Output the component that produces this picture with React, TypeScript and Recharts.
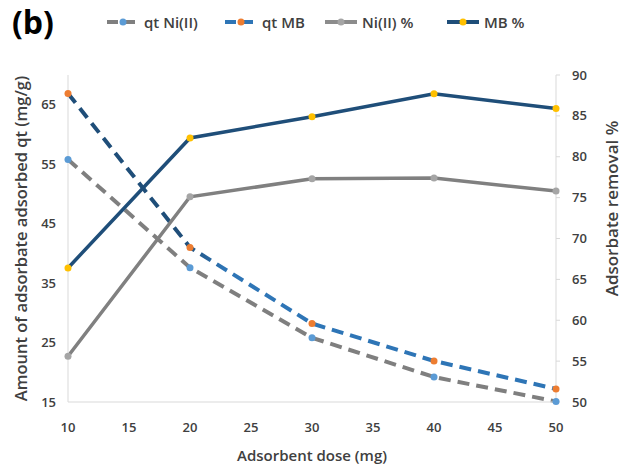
import { LineChart, Line, XAxis, YAxis, Legend, Label } from 'recharts'

const DOSES = [10, 20, 30, 40, 50]
const QT_NI = [55.8, 37.6, 25.8, 19.2, 15.1]
const QT_MB = [66.9, 41.0, 28.2, 21.9, 17.2]
const NI_PCT = [55.6, 75.1, 77.3, 77.4, 75.8]
const MB_PCT = [66.4, 82.3, 84.9, 87.7, 85.9]

const X_TICKS = [10, 15, 20, 25, 30, 35, 40, 45, 50]
const LEFT_TICKS = [15, 25, 35, 45, 55, 65]
const RIGHT_TICKS = [50, 55, 60, 65, 70, 75, 80, 85, 90]

const data = DOSES.map((d, i) => ({
  dose: d,
  qtNi: QT_NI[i],
  qtMB: QT_MB[i],
  niPct: NI_PCT[i],
  mbPct: MB_PCT[i],
}))

const FONT = '"Open Sans", sans-serif'
const TEXT = '#404040'
const AXIS = '#d9d9d9'

const LEGEND_ITEMS = [
  { name: 'qt Ni(II)', line: '#7f7f7f', dot: '#5b9bd5', dashed: true, w: 118 },
  { name: 'qt MB', line: '#2e75b6', dot: '#ed7d31', dashed: true, w: 100 },
  { name: 'Ni(II) %', line: '#8c8c8c', dot: '#a5a5a5', dashed: false, w: 122 },
  { name: 'MB %', line: '#1f4e79', dot: '#ffc000', dashed: false, w: 100 },
]

function LegendContent() {
  return (
    <div style={{ display: 'flex', alignItems: 'center', fontFamily: FONT, fontSize: 15, color: TEXT, fontWeight: 600 }}>
      {LEGEND_ITEMS.map((it) => (
        <div key={it.name} style={{ display: 'flex', alignItems: 'center', width: it.w }}>
          <svg width={34} height={10} style={{ marginRight: 4 }}>
            <line x1={1} y1={5} x2={33} y2={5} stroke={it.line} strokeWidth={4}
              strokeDasharray={it.dashed ? '11 6' : undefined} />
            <circle cx={17} cy={5} r={3.5} fill={it.dot} />
          </svg>
          <span>{it.name}</span>
        </div>
      ))}
    </div>
  )
}

// rotated axis title, placed from the axis viewBox
function vertTitle(text: string, dx: number, dy: number, side: 'left' | 'right', size: number) {
  return (props: any) => {
    const vb = props.viewBox
    const x = side === 'left' ? vb.x + dx : vb.x + vb.width - dx
    const y = vb.y + vb.height / 2 + dy
    return (
      <text x={x} y={y} transform={`rotate(-90, ${x}, ${y})`} textAnchor="middle" dominantBaseline="central"
        fontFamily={FONT} fontSize={size} fontWeight={600} fill={TEXT}>
        {text}
      </text>
    )
  }
}

const tickStyle = { fontFamily: FONT, fontSize: 13, fill: TEXT, fontWeight: 600 }

export default function App() {
  return (
    <div style={{ position: 'absolute', left: 0, top: 0, width: 623, height: 466, background: '#fff' }}>
      <div style={{ position: 'absolute', left: 12, top: 4, fontFamily: FONT, fontWeight: 700, fontSize: 32, lineHeight: '36px', color: '#000' }}>
        (b)
      </div>
      <LineChart width={623} height={466} data={data} margin={{ top: 55, right: 0, bottom: 0, left: 0 }}>
        <defs>
          <linearGradient id="qtmbStroke" x1="0" y1="0" x2="1" y2="0">
            <stop offset="0" stopColor="#1f4e79" />
            <stop offset="0.24" stopColor="#1f4e79" />
            <stop offset="0.32" stopColor="#2e75b6" />
            <stop offset="1" stopColor="#2e75b6" />
          </linearGradient>
        </defs>
        <XAxis dataKey="dose" type="number" domain={[10, 50]} ticks={X_TICKS} stroke={AXIS}
          tickLine={false} tickSize={6} tickMargin={15} tick={tickStyle} height={64}>
          <Label value="Adsorbent dose (mg)" position="insideBottom" offset={5}
            style={{ fontFamily: FONT, fontSize: 15, fontWeight: 600, fill: TEXT }} />
        </XAxis>
        <YAxis yAxisId="left" domain={[15, 70]} ticks={LEFT_TICKS} stroke={AXIS} width={68}
          tickLine={false} tickSize={6} tickMargin={6} tick={tickStyle}>
          <Label content={vertTitle('Amount of adsorbate adsorbed qt (mg/g)', 20, 0, 'left', 16.5)} />
        </YAxis>
        <YAxis yAxisId="right" orientation="right" domain={[50, 90]} ticks={RIGHT_TICKS} stroke={AXIS} width={67}
          tickLine={{ stroke: AXIS }} tickSize={4} tickMargin={12} tick={tickStyle}>
          <Label content={vertTitle('Adsorbate removal %', 12, -30, 'right', 17)} />
        </YAxis>
        <Legend verticalAlign="top" align="left" content={<LegendContent />}
          wrapperStyle={{ top: 12, left: 106, width: 460 }} />
        <Line yAxisId="left" dataKey="qtNi" name="qt Ni(II)" stroke="#7f7f7f" strokeWidth={4}
          strokeDasharray="12 7" dot={{ r: 3.5, fill: '#5b9bd5', stroke: '#5b9bd5', strokeWidth: 0 }} isAnimationActive={false} />
        <Line yAxisId="left" dataKey="qtMB" name="qt MB" stroke="url(#qtmbStroke)" strokeWidth={4}
          strokeDasharray="12 7" dot={{ r: 3.5, fill: '#ed7d31', stroke: '#ed7d31', strokeWidth: 0 }} isAnimationActive={false} />
        <Line yAxisId="right" dataKey="niPct" name="Ni(II) %" stroke="#808080" strokeWidth={3.5}
          dot={{ r: 3.5, fill: '#a5a5a5', stroke: '#a5a5a5', strokeWidth: 0 }} isAnimationActive={false} />
        <Line yAxisId="right" dataKey="mbPct" name="MB %" stroke="#1f4e79" strokeWidth={3.5}
          dot={{ r: 3.5, fill: '#ffc000', stroke: '#ffc000', strokeWidth: 0 }} isAnimationActive={false} />
      </LineChart>
    </div>
  )
}
